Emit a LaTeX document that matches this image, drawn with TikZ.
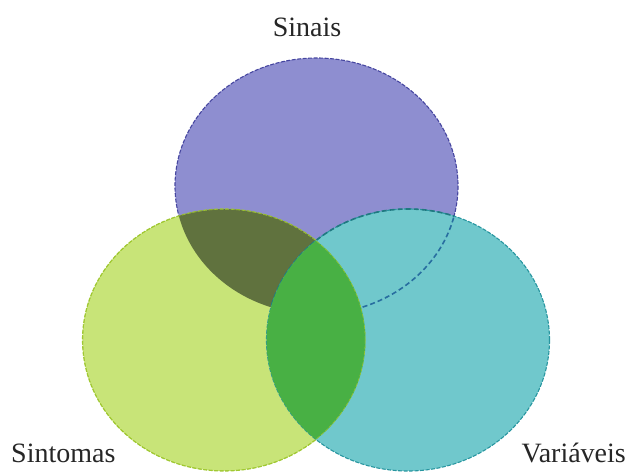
\documentclass[tikz,border=0pt]{standalone}
\usepackage{fontspec}
\setmainfont{Liberation Serif}
\definecolor{cpurple}{RGB}{142,142,208}
\definecolor{cpurpleline}{RGB}{70,70,160}
\definecolor{clime}{RGB}{200,228,120}
\definecolor{climeline}{RGB}{160,200,50}
\definecolor{cteal}{RGB}{112,200,204}
\definecolor{ctealline}{RGB}{40,150,160}
\definecolor{colive}{RGB}{96,114,62}
\definecolor{cgreen}{RGB}{72,176,68}
\definecolor{cdash}{RGB}{40,110,160}
\tikzset{
  outl/.style={line width=1.1pt, dash pattern=on 4pt off 1.5pt},
  inner dash/.style={line width=1.6pt, dash pattern=on 5pt off 3pt},
  lbl/.style={font=\fontsize{28}{30}\selectfont, text=black!85, inner sep=0pt}
}
\begin{document}
\begin{tikzpicture}[x=1pt,y=-1pt]
\useasboundingbox (0,0) rectangle (627,473);
% top ellipse (Sinais)
\fill[cpurple] (316.5,186) ellipse [x radius=141.5, y radius=128];
\draw[outl, cpurpleline] (316.5,186) ellipse [x radius=141.5, y radius=128];
% left ellipse (Sintomas)
\fill[clime] (224,340) ellipse [x radius=141.5, y radius=131];
\draw[outl, climeline] (224,340) ellipse [x radius=141.5, y radius=131];
% top and left
\begin{scope}
  \clip (224,340) ellipse [x radius=141.5, y radius=131];
  \fill[colive] (316.5,186) ellipse [x radius=141.5, y radius=128];
\end{scope}
% right ellipse (Variaveis)
\fill[cteal] (408,340) ellipse [x radius=141.5, y radius=131];
\draw[outl, ctealline] (408,340) ellipse [x radius=141.5, y radius=131];
% top outline seen through the right ellipse
\begin{scope}
  \clip (408,340) ellipse [x radius=141.5, y radius=131];
  \draw[inner dash, cdash] (316.5,186) ellipse [x radius=141.5, y radius=128];
\end{scope}
% right ellipse outline inside top ellipse
\begin{scope}
  \clip (316.5,186) ellipse [x radius=141.5, y radius=128];
  \draw[inner dash, ctealline!80!black] (408,340) ellipse [x radius=141.5, y radius=131];
\end{scope}
% left and right
\begin{scope}
  \clip (224,340) ellipse [x radius=141.5, y radius=131];
  \fill[cgreen] (408,340) ellipse [x radius=141.5, y radius=131];
  \draw[outl, climeline] (224,340) ellipse [x radius=141.5, y radius=131];
\end{scope}
% labels
\node[lbl, anchor=base] (sinais) at (307,37) {Sinais};
\node[lbl, anchor=base west] (sintomas) at (11,462) {Sintomas};
\node[lbl, anchor=base east] (variaveis) at (626,462) {Variáveis};
\end{tikzpicture}
\end{document}
